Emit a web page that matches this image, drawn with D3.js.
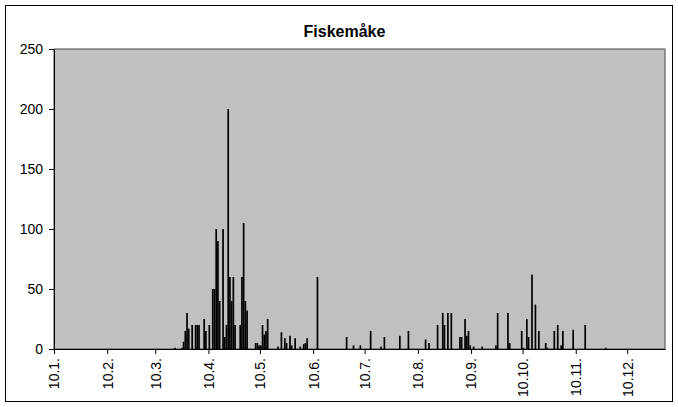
<!DOCTYPE html>
<html>
<head>
<meta charset="utf-8">
<script src="https://cdn.jsdelivr.net/npm/d3@7"></script>
<style>
  body { margin: 0; background: #fff; }
  text { font-family: "Liberation Sans", Arial, sans-serif; }
</style>
</head>
<body>
<script>
var width = 678;
var height = 407;

// observation days (non-zero counts only)
var obsDates = [
  "2005-03-21", "2005-03-25", "2005-03-26", "2005-03-27", "2005-03-28", "2005-03-29", "2005-03-31",
  "2005-04-02", "2005-04-03", "2005-04-04", "2005-04-07", "2005-04-08", "2005-04-10", "2005-04-12",
  "2005-04-13", "2005-04-14", "2005-04-15", "2005-04-16", "2005-04-18", "2005-04-19", "2005-04-20",
  "2005-04-21", "2005-04-22", "2005-04-23", "2005-04-24", "2005-04-25", "2005-04-28", "2005-04-29",
  "2005-04-30", "2005-05-01", "2005-05-02", "2005-05-07", "2005-05-08", "2005-05-09", "2005-05-10",
  "2005-05-11", "2005-05-12", "2005-05-13", "2005-05-14", "2005-05-20", "2005-05-22", "2005-05-24",
  "2005-05-25", "2005-05-27", "2005-05-28", "2005-05-30", "2005-06-02", "2005-06-04", "2005-06-05",
  "2005-06-06", "2005-06-12", "2005-06-29", "2005-07-03", "2005-07-07", "2005-07-13", "2005-07-19",
  "2005-07-21", "2005-07-30", "2005-08-04", "2005-08-14", "2005-08-16", "2005-08-21", "2005-08-24",
  "2005-08-25", "2005-08-27", "2005-08-29", "2005-09-03", "2005-09-04", "2005-09-06", "2005-09-07",
  "2005-09-08", "2005-09-09", "2005-09-11", "2005-09-16", "2005-09-24", "2005-09-25", "2005-10-01",
  "2005-10-02", "2005-10-09", "2005-10-10", "2005-10-12", "2005-10-13", "2005-10-15", "2005-10-17",
  "2005-10-19", "2005-10-23", "2005-10-24", "2005-10-28", "2005-10-30", "2005-11-01", "2005-11-02",
  "2005-11-08", "2005-11-15", "2005-11-27"
];
var counts = [
  1, 1, 6, 15, 30, 17, 20,
  20, 20, 20, 25, 15, 20, 50,
  50, 100, 90, 40, 100, 10, 20,
  200, 60, 40, 60, 20, 20, 60,
  105, 40, 32, 5, 5, 3, 3,
  20, 12, 15, 25, 2, 14, 9,
  5, 11, 3, 9, 2, 4, 5,
  9, 60, 10, 3, 3, 15, 2,
  10, 11, 15, 8, 5, 20, 30,
  20, 30, 30, 10, 10, 25, 11,
  15, 3, 2, 2, 3, 30, 30,
  5, 15, 1, 25, 10, 62, 37,
  15, 5, 1, 15, 20, 3, 15,
  16, 20, 1
];

// axis ticks: the 10th of every month
var tickDates = [
  "2005-01-10", "2005-02-10", "2005-03-10", "2005-04-10", "2005-05-10", "2005-06-10",
  "2005-07-10", "2005-08-10", "2005-09-10", "2005-10-10", "2005-11-10", "2005-12-10"
];
var yTicks = [0, 50, 100, 150, 200, 250];
var title = "Fiskemåke";

var parse = d3.timeParse("%Y-%m-%d");
var data = obsDates.map(function (d, i) { return { date: parse(d), value: counts[i] }; });

var plot = { left: 54, right: 665, top: 49, bottom: 349 };

var svg = d3.select("body").append("svg")
    .attr("width", width)
    .attr("height", height);

// chart frame
svg.append("rect")
    .attr("x", 5.5).attr("y", 5.5)
    .attr("width", 667).attr("height", 396)
    .attr("fill", "#fff")
    .attr("stroke", "#000");

var xScale = d3.scaleTime()
    .domain([parse("2005-01-10"), parse("2006-01-01")])
    .range([plot.left, plot.right]);

var yScale = d3.scaleLinear()
    .domain([0, 250])
    .range([plot.bottom, plot.top]);

// plot area
svg.append("rect")
    .attr("x", plot.left).attr("y", plot.top)
    .attr("width", plot.right - plot.left)
    .attr("height", plot.bottom - plot.top)
    .attr("fill", "#c0c0c0")
    .attr("stroke", "#4a4a4a")
    .attr("stroke-width", 1);

// bars
var barW = 1.7;
svg.selectAll(".bar")
    .data(data)
    .enter()
    .append("rect")
    .attr("class", "bar")
    .attr("x", function (d) {
        var slot = xScale(d3.timeDay.offset(d.date, 1)) - xScale(d.date);
        return xScale(d.date) + slot / 2 - barW / 2;
    })
    .attr("y", function (d) { return yScale(d.value); })
    .attr("width", barW)
    .attr("height", function (d) { return plot.bottom - yScale(d.value); })
    .attr("fill", "#000");

// y axis
var yAxis = d3.axisLeft(yScale)
    .tickValues(yTicks)
    .tickSize(5)
    .tickSizeOuter(0)
    .tickPadding(6);

var gy = svg.append("g")
    .attr("transform", "translate(" + plot.left + ",0)")
    .call(yAxis);
gy.selectAll("text").style("font-size", "14px").attr("fill", "#000");
gy.selectAll("line, path").attr("stroke", "#000");

// x axis
var xAxis = d3.axisBottom(xScale)
    .tickValues(tickDates.map(parse))
    .tickFormat(d3.timeFormat("%-d.%-m."))
    .tickSize(5)
    .tickSizeOuter(0);

var gx = svg.append("g")
    .attr("transform", "translate(0," + plot.bottom + ")")
    .call(xAxis);
gx.selectAll("line, path").attr("stroke", "#000");
gx.selectAll("text")
    .style("font-size", "14px")
    .attr("fill", "#000")
    .attr("transform", "rotate(-90)")
    .attr("x", -9)
    .attr("y", 0)
    .attr("dy", "0.35em")
    .style("text-anchor", "end");

// title
svg.append("text")
    .attr("x", (plot.left + plot.right) / 2 - 15)
    .attr("y", 37)
    .attr("text-anchor", "middle")
    .style("font-size", "16px")
    .style("font-weight", "bold")
    .text(title);
</script>
</body>
</html>
